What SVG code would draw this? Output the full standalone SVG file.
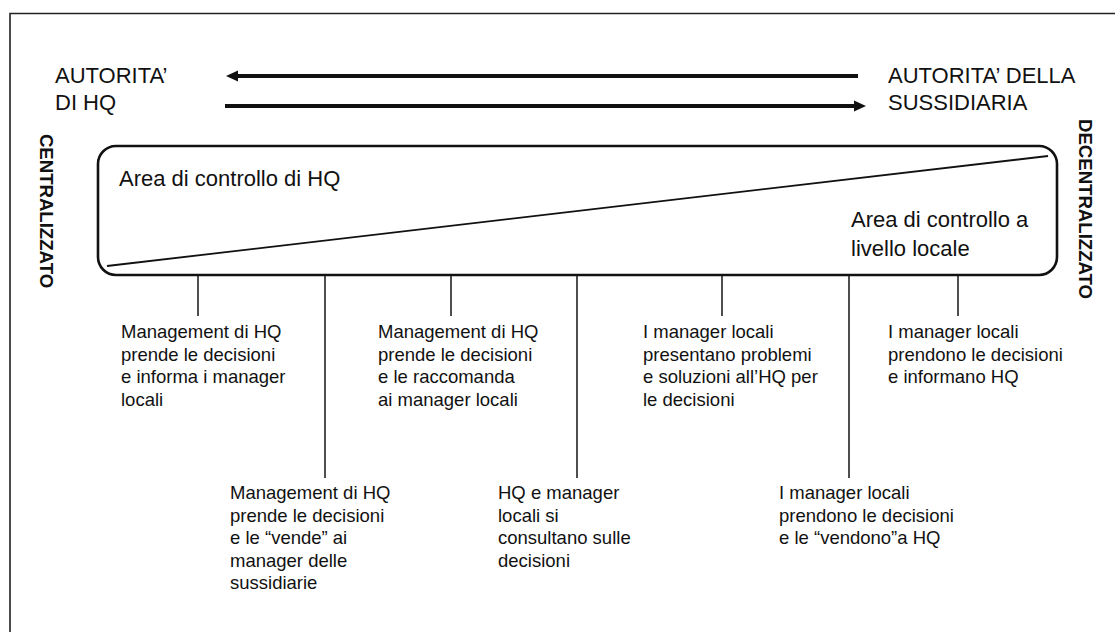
<svg xmlns="http://www.w3.org/2000/svg" width="1115" height="632" viewBox="0 0 1115 632">
  <style>
    text { font-family: "Liberation Sans", Arial, sans-serif; fill: #111; }
    .head { font-size: 22px; }
    .area { font-size: 22px; }
    .side { font-size: 18.6px; font-weight: bold; }
    .lbl { font-size: 18.5px; }
    .frame { fill: none; stroke: #222; stroke-width: 1.6; }
    .arrow { stroke: #111; stroke-width: 4; fill: none; }
    .tick { stroke: #222; stroke-width: 1.6; }
    .box { fill: #fff; stroke: #111; stroke-width: 2.6; }
    .diag { stroke: #111; stroke-width: 1.8; }
  </style>
  <defs>
    <marker id="ah" viewBox="0 -6 12 12" markerUnits="userSpaceOnUse" markerWidth="12" markerHeight="12" refX="1" refY="0" orient="auto">
      <path d="M0,-5.5 L12,0 L0,5.5 z" fill="#111"/>
    </marker>
  </defs>

  <rect width="1115" height="632" fill="#fff"/>
  <!-- page frame (top and left edges) -->
  <path class="frame" d="M10,632 V13.5 H1115"/>

  <!-- authority labels -->
  <g id="hq-authority">
    <text class="head" x="55" y="83">AUTORITA’</text>
    <text class="head" x="55" y="110">DI HQ</text>
  </g>
  <g id="subsidiary-authority">
    <text class="head" x="888" y="83">AUTORITA’ DELLA</text>
    <text class="head" x="888" y="110">SUSSIDIARIA</text>
  </g>

  <!-- side captions -->
  <g id="centralized">
    <text class="side" transform="translate(40,211) rotate(90)" text-anchor="middle">CENTRALIZZATO</text>
  </g>
  <g id="decentralized">
    <text class="side" transform="translate(1079,209) rotate(90)" text-anchor="middle">DECENTRALIZZATO</text>
  </g>

  <!-- control area box split by the diagonal -->
  <g id="control-box">
    <rect class="box" x="98" y="146" width="959" height="129" rx="18" ry="18"/>
    <line class="diag" x1="107" y1="266" x2="1048" y2="156"/>
    <text class="area" x="119" y="186">Area di controllo di HQ</text>
    <text class="area" x="851" y="227">Area di controllo a</text>
    <text class="area" x="851" y="256">livello locale</text>
  </g>

  <!-- connectors: authority arrows and ticks under the box -->
  <g id="connectors">
    <line class="arrow" x1="858" y1="76" x2="237" y2="76" marker-end="url(#ah)"/>
    <line class="arrow" x1="225" y1="106" x2="855" y2="106" marker-end="url(#ah)"/>
    <line class="tick" x1="198" y1="276" x2="198" y2="316"/>
    <line class="tick" x1="325" y1="276" x2="325" y2="478"/>
    <line class="tick" x1="451" y1="276" x2="451" y2="316"/>
    <line class="tick" x1="577" y1="276" x2="577" y2="478"/>
    <line class="tick" x1="722" y1="276" x2="722" y2="316"/>
    <line class="tick" x1="849" y1="276" x2="849" y2="478"/>
    <line class="tick" x1="958" y1="276" x2="958" y2="316"/>
  </g>

  <!-- decision styles, upper row -->
  <g id="style-1">
    <text class="lbl" x="121" y="338">Management di HQ</text>
    <text class="lbl" x="121" y="360.5">prende le decisioni</text>
    <text class="lbl" x="121" y="383">e informa i manager</text>
    <text class="lbl" x="121" y="405.5">locali</text>
  </g>
  <g id="style-3">
    <text class="lbl" x="378" y="338">Management di HQ</text>
    <text class="lbl" x="378" y="360.5">prende le decisioni</text>
    <text class="lbl" x="378" y="383">e le raccomanda</text>
    <text class="lbl" x="378" y="405.5">ai manager locali</text>
  </g>
  <g id="style-5">
    <text class="lbl" x="643" y="338">I manager locali</text>
    <text class="lbl" x="643" y="360.5">presentano problemi</text>
    <text class="lbl" x="643" y="383">e soluzioni all’HQ per</text>
    <text class="lbl" x="643" y="405.5">le decisioni</text>
  </g>
  <g id="style-7">
    <text class="lbl" x="888" y="338">I manager locali</text>
    <text class="lbl" x="888" y="360.5">prendono le decisioni</text>
    <text class="lbl" x="888" y="383">e informano HQ</text>
  </g>

  <!-- decision styles, lower row -->
  <g id="style-2">
    <text class="lbl" x="230" y="499">Management di HQ</text>
    <text class="lbl" x="230" y="521.5">prende le decisioni</text>
    <text class="lbl" x="230" y="544">e le “vende” ai</text>
    <text class="lbl" x="230" y="566.5">manager delle</text>
    <text class="lbl" x="230" y="589">sussidiarie</text>
  </g>
  <g id="style-4">
    <text class="lbl" x="498" y="499">HQ e manager</text>
    <text class="lbl" x="498" y="521.5">locali si</text>
    <text class="lbl" x="498" y="544">consultano sulle</text>
    <text class="lbl" x="498" y="566.5">decisioni</text>
  </g>
  <g id="style-6">
    <text class="lbl" x="779" y="499">I manager locali</text>
    <text class="lbl" x="779" y="521.5">prendono le decisioni</text>
    <text class="lbl" x="779" y="544">e le “vendono”a HQ</text>
  </g>
</svg>
